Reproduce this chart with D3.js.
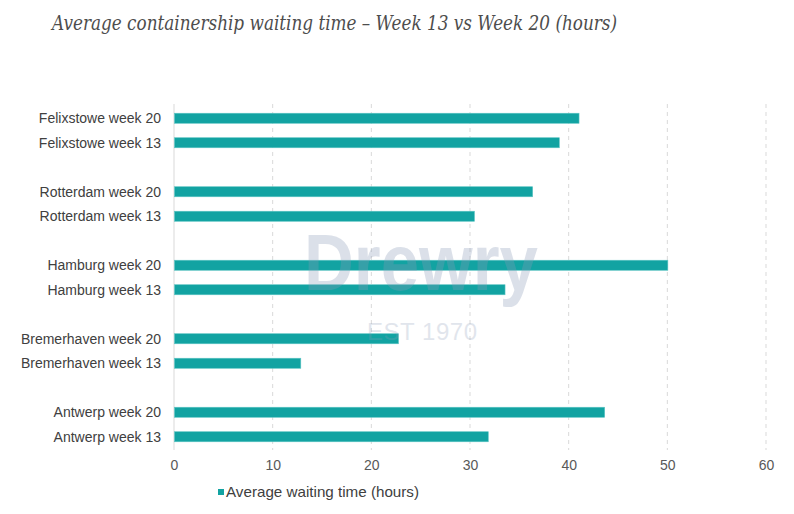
<!DOCTYPE html>
<html><head><meta charset="utf-8">
<script src="https://cdn.jsdelivr.net/npm/d3@7"></script>
<style>body{margin:0;background:#fff}svg{display:block}</style>
</head><body>
<svg id="c" width="794" height="514"></svg>
<script>
const categories = ["Felixstowe week 20","Felixstowe week 13","","Rotterdam week 20","Rotterdam week 13"," ","Hamburg week 20","Hamburg week 13","  ","Bremerhaven week 20","Bremerhaven week 13","   ","Antwerp week 20","Antwerp week 13"];
const values = [41.0, 39.0, null, 36.3, 30.4, null, 50.0, 33.5, null, 22.7, 12.8, null, 43.6, 31.8];
const xTicks = [0,10,20,30,40,50,60];
const title = "Average containership waiting time – Week 13 vs Week 20 (hours)";
const seriesName = "Average waiting time (hours)";

const svg = d3.select("#c");
const color = "#12a3a2";
const x = d3.scaleLinear().domain([0,60]).range([174,766]);
const y = d3.scaleBand().domain(categories).range([106,449]).paddingInner(0.59).paddingOuter(0.295);

svg.append("text").attr("x",52).attr("y",30).attr("font-family","'DejaVu Serif', serif")
  .attr("font-style","italic").attr("font-size",20).attr("fill","#4d4d4d")
  .attr("textLength",565).attr("lengthAdjust","spacingAndGlyphs").text(title);

// gridlines
svg.append("g").selectAll("line").data(xTicks.slice(1)).join("line")
  .attr("x1",d=>x(d)).attr("x2",d=>x(d)).attr("y1",104).attr("y2",450)
  .attr("stroke","#d9d9d9").attr("stroke-width",1).attr("stroke-dasharray","4,4");
svg.append("line").attr("x1",x(0)).attr("x2",x(0)).attr("y1",104).attr("y2",450)
  .attr("stroke","#d9d9d9").attr("stroke-width",1);

// bars
const data = categories.map((c,i)=>({c,v:values[i]})).filter(d=>d.v!==null);
svg.append("g").selectAll("rect").data(data).join("rect")
  .attr("x",x(0)+0.5).attr("y",d=>y(d.c)).attr("height",y.bandwidth())
  .attr("width",d=>x(d.v)-x(0)).attr("fill",color).attr("stroke","#5cc4c3").attr("stroke-width",0.6);

// y labels
svg.append("g").selectAll("text").data(data).join("text")
  .attr("x",161).attr("y",d=>y(d.c)+y.bandwidth()/2).attr("dy","0.35em")
  .attr("text-anchor","end").attr("font-family","'Liberation Sans', Arial, sans-serif")
  .attr("font-size",14).attr("fill","#404040").text(d=>d.c);

// x axis
const xa = svg.append("g").attr("transform","translate(0,449)")
  .call(d3.axisBottom(x).tickValues(xTicks).tickSize(0).tickPadding(11));
xa.select(".domain").remove();
xa.selectAll("text").attr("font-family","'Liberation Sans', Arial, sans-serif").attr("font-size",14).attr("fill","#595959");

// legend
svg.append("rect").attr("x",218).attr("y",489).attr("width",6).attr("height",6).attr("fill",color);
svg.append("text").attr("x",226).attr("y",497).attr("font-family","'Liberation Sans', Arial, sans-serif")
  .attr("font-size",15).attr("fill","#404040").attr("textLength",193).attr("lengthAdjust","spacingAndGlyphs").text(seriesName);

// watermark
svg.append("text").attr("x",421).attr("y",290).attr("text-anchor","middle")
  .attr("font-family","'Liberation Sans', Arial, sans-serif").attr("font-weight","bold")
  .attr("font-size",80).attr("fill","#8a9bb8").attr("opacity",0.3)
  .attr("textLength",234).attr("lengthAdjust","spacingAndGlyphs").text("Drewry");
svg.append("text").attr("x",422).attr("y",340).attr("text-anchor","middle")
  .attr("font-family","'Liberation Sans', Arial, sans-serif")
  .attr("font-size",24).attr("fill","#8a9bb8").attr("opacity",0.25)
  .attr("textLength",110).attr("lengthAdjust","spacing").text("EST 1970");
</script>
</body></html>
